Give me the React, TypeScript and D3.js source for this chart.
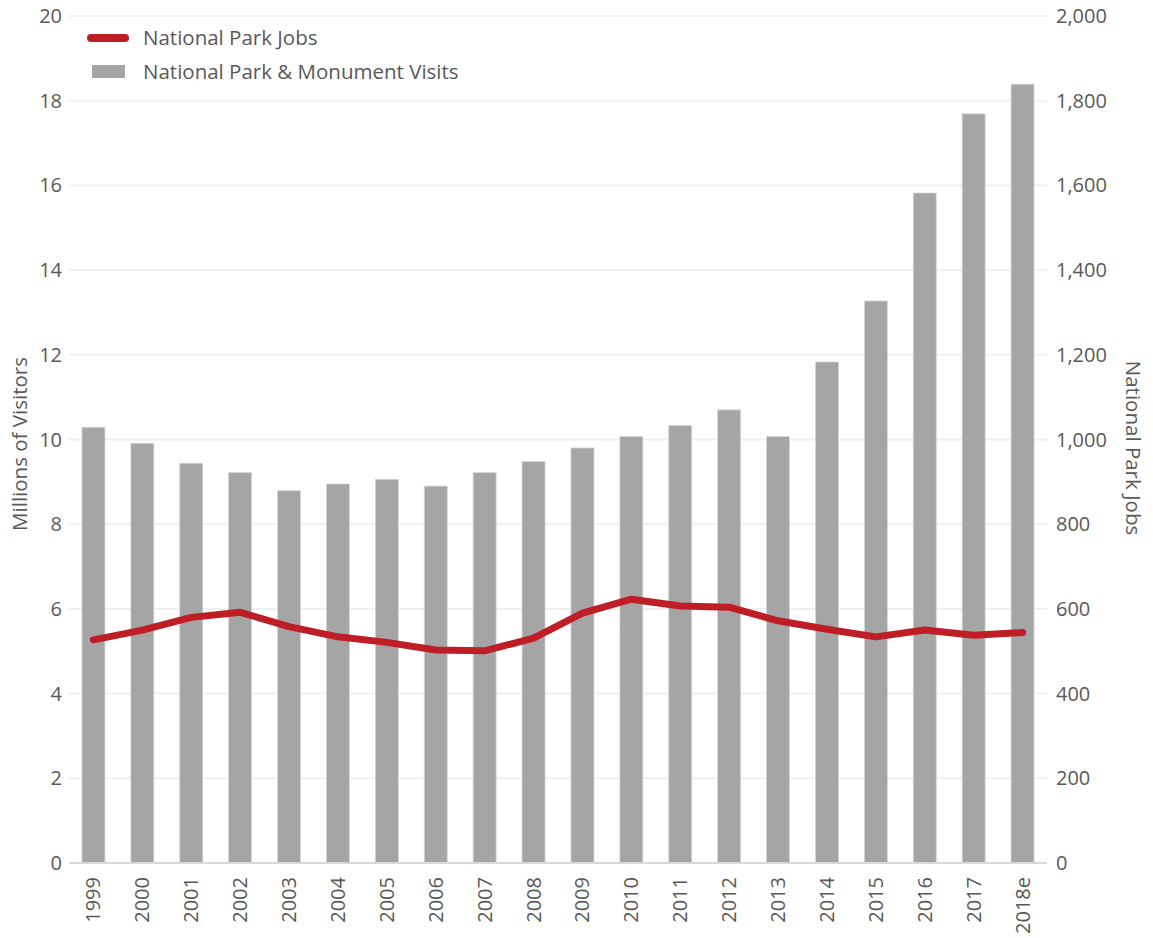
import React from "react";
import * as d3 from "d3";

const years = ["1999","2000","2001","2002","2003","2004","2005","2006","2007","2008","2009","2010","2011","2012","2013","2014","2015","2016","2017","2018e"];
const visits = [10.29,9.91,9.44,9.22,8.79,8.95,9.06,8.9,9.22,9.48,9.8,10.07,10.33,10.7,10.07,11.83,13.27,15.82,17.69,18.39];
const jobs = [527,550,580,592,558,534,521,503,501,531,590,623,607,604,572,552,534,550,538,544];
const leftTicks = [0,2,4,6,8,10,12,14,16,18,20];
const rightTicks = [0,200,400,600,800,1000,1200,1400,1600,1800,2000];

const W = 1153, H = 938;
const M = { left: 69, right: 1047, top: 16, bottom: 863 };
const FONT = "'Open Sans', 'Noto Sans', sans-serif";
const TXT = "#595959";

export default function App() {
  const x = d3.scaleBand<string>().domain(years).range([M.left, M.right]).paddingInner(0.53).paddingOuter(0.265);
  const yL = d3.scaleLinear().domain([0, 20]).range([M.bottom, M.top]);
  const yR = d3.scaleLinear().domain([0, 2000]).range([M.bottom, M.top]);
  const line = d3.line<number>().x((_, i) => (x(years[i]) as number) + x.bandwidth() / 2).y(d => yR(d));
  const fmt = d3.format(",");
  return (
    <svg width={W} height={H} style={{ position: "absolute", left: 0, top: 0, fontFamily: FONT }}>
      <rect width={W} height={H} fill="#fff" />
      {leftTicks.filter(t => t > 0).map(t => (
        <line key={t} x1={M.left} x2={M.right} y1={yL(t)} y2={yL(t)} stroke="#f0f0f0" strokeWidth={2} />
      ))}
      {years.map((yr, i) => (
        <rect key={yr} x={x(yr)} y={yL(visits[i])} width={x.bandwidth()} height={yL(0) - yL(visits[i])}
          fill="#a5a5a5" stroke="#d6d6d6" strokeWidth={0.8} />
      ))}
      <line x1={M.left} x2={M.right} y1={yL(0)} y2={yL(0)} stroke="#d9d9d9" strokeWidth={2} />
      <path d={line(jobs) || ""} fill="none" stroke="#c01e26" strokeWidth={7} strokeLinecap="round" strokeLinejoin="round" />
      {leftTicks.map(t => (
        <text key={t} x={62} y={yL(t)} dy="0.35em" textAnchor="end" fontSize={20} fill={TXT}>{t}</text>
      ))}
      {rightTicks.map(t => (
        <text key={t} x={1056} y={yR(t)} dy="0.35em" textAnchor="start" fontSize={20} fill={TXT}>{fmt(t)}</text>
      ))}
      {years.map(yr => (
        <text key={yr} transform={`translate(${(x(yr) as number) + x.bandwidth() / 2},${877}) rotate(-90)`}
          dy="0.35em" textAnchor="end" fontSize={20} fill={TXT}>{yr}</text>
      ))}
      <text transform={`translate(20,${444}) rotate(-90)`} dy="0.35em" textAnchor="middle" fontSize={20.5} fill={TXT}>Millions of Visitors</text>
      <text transform={`translate(1133,${448}) rotate(90)`} dy="0.35em" textAnchor="middle" fontSize={20.5} fill={TXT}>National Park Jobs</text>
      <line x1={91} x2={125} y1={38} y2={38} stroke="#c01e26" strokeWidth={8} strokeLinecap="round" />
      <text x={143} y={38} dy="0.35em" fontSize={20.5} fill={TXT}>National Park Jobs</text>
      <rect x={92} y={65} width={33} height={13} fill="#a5a5a5" />
      <text x={143} y={71.5} dy="0.35em" fontSize={20.5} fill={TXT}>National Park &amp; Monument Visits</text>
    </svg>
  );
}
